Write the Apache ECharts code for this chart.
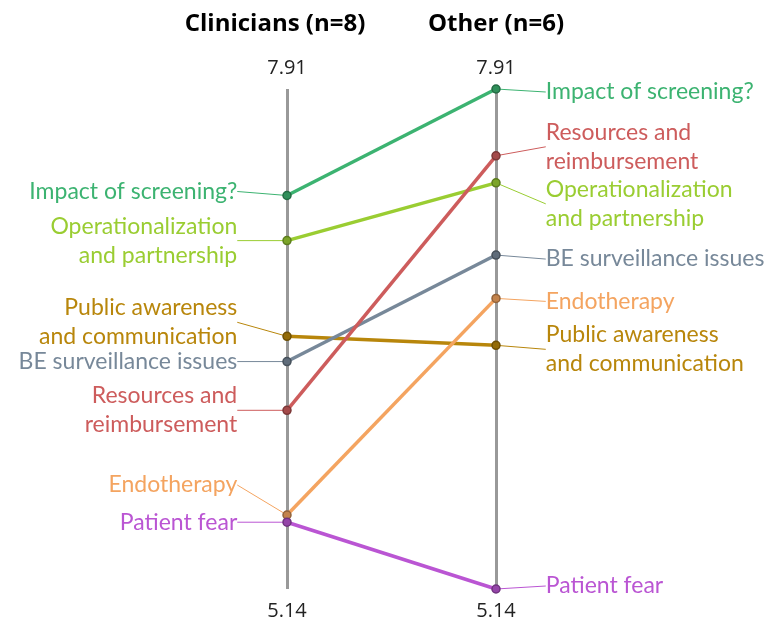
<!DOCTYPE html>
<html>
<head>
<meta charset="utf-8">
<script src="https://cdn.jsdelivr.net/npm/echarts@6/dist/echarts.min.js"></script>
<style>
html, body { margin: 0; padding: 0; background: #fff; }
#main { width: 774px; height: 622px; }
</style>
</head>
<body>
<div id="main"></div>
<script>
// groups on the two vertical axes
const groups = ['Clinicians (n=8)', 'Other (n=6)'];
const topics = [
    'Impact of screening?',
    'Operationalization\nand partnership',
    'Public awareness\nand communication',
    'BE surveillance issues',
    'Resources and\nreimbursement',
    'Endotherapy',
    'Patient fear'
];
const clinicians = [7.32, 7.07, 6.54, 6.40, 6.13, 5.55, 5.51];
const other = [7.91, 7.39, 6.49, 6.99, 7.54, 6.75, 5.14];
const axisMin = 5.14;
const axisMax = 7.91;

const colors = ['#3cb371', '#9acd32', '#b8860b', '#778899', '#cd5c5c', '#f4a460', '#ba55d3'];
// vertical nudges so the labels do not collide (same order as topics)
const leftNudge = [-4, 0, -14, 0, 0, -30, 0];
const rightNudge = [3, 21, 4, 4, -9, 3, -3];

const chart = echarts.init(document.getElementById('main'));
const font = 'Lato, "Noto Sans", sans-serif';
const headFont = '"Open Sans", sans-serif';

function darken(c, k) {
    var a = echarts.color.parse(c);
    return echarts.color.stringify([a[0] * k | 0, a[1] * k | 0, a[2] * k | 0, 1], 'rgb');
}

const series = topics.map(function (name, i) {
    return {
        name: name,
        type: 'line',
        xAxisIndex: 0,
        data: [
            { value: clinicians[i], label: { position: 'left' } },
            { value: other[i], label: { position: 'right' } }
        ],
        symbol: 'circle',
        symbolSize: 8,
        lineStyle: { color: colors[i], width: 3.5 },
        itemStyle: {
            color: darken(colors[i], 0.8),
            borderColor: darken(colors[i], 0.6),
            borderWidth: 1.5
        },
        label: {
            show: true,
            formatter: '{a}',
            color: colors[i],
            fontFamily: font,
            fontSize: 23,
            lineHeight: 29,
            distance: 45
        },
        labelLine: {
            show: true,
            lineStyle: { color: colors[i], width: 1 }
        },
        labelLayout: function (p) {
            return { dy: (p.dataIndex === 0 ? leftNudge : rightNudge)[p.seriesIndex] };
        },
        emphasis: { disabled: true }
    };
});

chart.setOption({
    animation: false,
    grid: { left: 287, right: 278, top: 89, bottom: 33 },
    xAxis: [
        {
            type: 'category',
            data: groups,
            boundaryGap: false,
            position: 'bottom',
            axisLine: { show: false },
            axisTick: { show: false },
            splitLine: { show: true, lineStyle: { color: '#999', width: 3 } },
            axisLabel: {
                margin: 12,
                fontFamily: headFont,
                fontSize: 20,
                color: '#222',
                formatter: function () { return axisMin.toFixed(2); }
            }
        },
        {
            type: 'category',
            data: groups,
            boundaryGap: false,
            position: 'top',
            axisLine: { show: false },
            axisTick: { show: false },
            splitLine: { show: false },
            axisLabel: {
                margin: 11,
                fontFamily: headFont,
                fontSize: 20,
                color: '#222',
                formatter: function () { return axisMax.toFixed(2); }
            }
        },
        {
            type: 'category',
            data: groups,
            boundaryGap: false,
            position: 'top',
            axisLine: { show: false },
            axisTick: { show: false },
            splitLine: { show: false },
            axisLabel: {
                margin: 53,
                formatter: function (v, idx) {
                    return idx === 0 ? '{l|' + v + '}' : '{r|' + v + '}';
                },
                rich: {
                    l: { fontFamily: headFont, fontSize: 24, fontWeight: 'bold', color: '#000', padding: [0, 24, 0, 0] },
                    r: { fontFamily: headFont, fontSize: 24, fontWeight: 'bold', color: '#000' }
                }
            }
        }
    ],
    yAxis: {
        type: 'value',
        min: axisMin,
        max: axisMax,
        show: false,
        splitLine: { show: false }
    },
    series: series
});
</script>
</body>
</html>
